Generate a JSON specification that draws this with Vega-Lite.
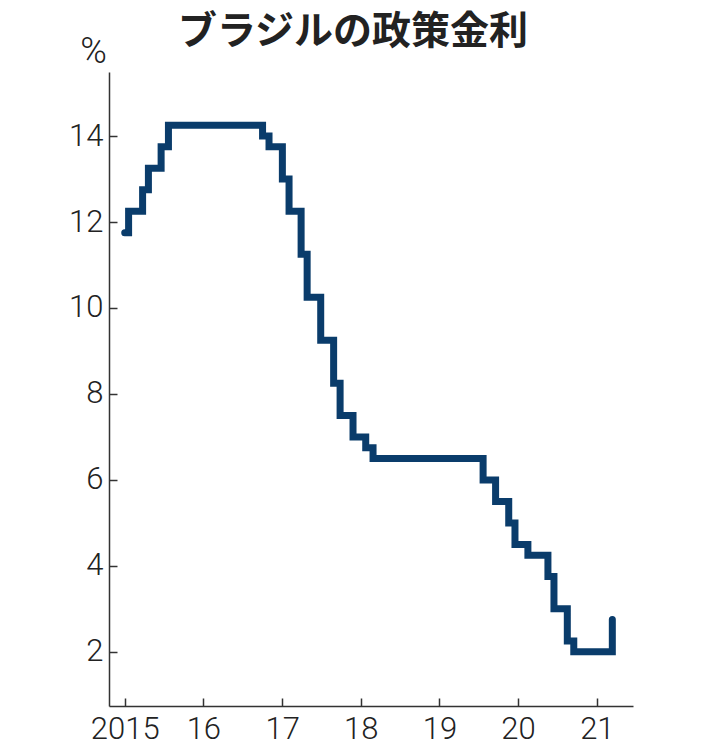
{
  "$schema": "https://vega.github.io/schema/vega-lite/v6.json",
  "width": 524,
  "height": 634,
  "autosize": "none",
  "padding": {"left": 109, "top": 72, "right": 70, "bottom": 50},
  "background": "white",
  "title": {
    "text": "ブラジルの政策金利",
    "font": "Noto Sans CJK JP",
    "fontWeight": "bold",
    "fontSize": 39,
    "color": "#222222",
    "anchor": "middle",
    "frame": "group",
    "dx": -18,
    "dy": 23
  },
  "data": {
    "values": [
      {"date": "2015-01-01", "rate": 11.75},
      {"date": "2015-01-19", "rate": 12.25},
      {"date": "2015-03-25", "rate": 12.75},
      {"date": "2015-04-21", "rate": 13.25},
      {"date": "2015-06-19", "rate": 13.75},
      {"date": "2015-07-23", "rate": 14.25},
      {"date": "2016-10-02", "rate": 14.0},
      {"date": "2016-11-01", "rate": 13.75},
      {"date": "2017-01-02", "rate": 13.0},
      {"date": "2017-02-02", "rate": 12.25},
      {"date": "2017-03-30", "rate": 11.25},
      {"date": "2017-04-27", "rate": 10.25},
      {"date": "2017-06-29", "rate": 9.25},
      {"date": "2017-08-28", "rate": 8.25},
      {"date": "2017-09-27", "rate": 7.5},
      {"date": "2017-11-26", "rate": 7.0},
      {"date": "2018-01-24", "rate": 6.75},
      {"date": "2018-02-27", "rate": 6.5},
      {"date": "2019-07-23", "rate": 6.0},
      {"date": "2019-09-19", "rate": 5.5},
      {"date": "2019-11-19", "rate": 5.0},
      {"date": "2019-12-18", "rate": 4.5},
      {"date": "2020-02-16", "rate": 4.25},
      {"date": "2020-05-19", "rate": 3.75},
      {"date": "2020-06-16", "rate": 3.0},
      {"date": "2020-08-17", "rate": 2.25},
      {"date": "2020-09-16", "rate": 2.0},
      {"date": "2021-03-14", "rate": 2.75}
    ]
  },
  "mark": {
    "type": "line",
    "interpolate": "step-after",
    "strokeWidth": 7,
    "color": "#0a3c6b",
    "strokeCap": "round"
  },
  "encoding": {
    "x": {
      "field": "date",
      "type": "temporal",
      "scale": {
        "type": "utc",
        "domain": [
          {"year": 2014, "month": 10, "date": 20, "utc": true},
          {"year": 2021, "month": 6, "date": 18, "utc": true}
        ]
      },
      "axis": {
        "title": null,
        "grid": false,
        "values": [
          {"year": 2015, "month": 1, "date": 1, "utc": true},
          {"year": 2016, "month": 1, "date": 1, "utc": true},
          {"year": 2017, "month": 1, "date": 1, "utc": true},
          {"year": 2018, "month": 1, "date": 1, "utc": true},
          {"year": 2019, "month": 1, "date": 1, "utc": true},
          {"year": 2020, "month": 1, "date": 1, "utc": true},
          {"year": 2021, "month": 1, "date": 1, "utc": true}
        ],
        "labelExpr": "utcFormat(datum.value, '%Y') == '2015' ? '2015' : utcFormat(datum.value, '%y')",
        "tickSize": -8,
        "labelPadding": 16,
        "labelFlush": false,
        "labelOverlap": false
      }
    },
    "y": {
      "field": "rate",
      "type": "quantitative",
      "scale": {"domain": [0.74, 15.49], "nice": false, "zero": false},
      "axis": {
        "values": [2, 4, 6, 8, 10, 12, 14],
        "grid": false,
        "tickSize": -8,
        "labelPadding": 14,
        "title": "%",
        "titleAngle": 0,
        "titleX": -16,
        "titleY": -10,
        "titleAlign": "center",
        "titleBaseline": "alphabetic",
        "titleFont": "Roboto",
        "titleFontSize": 36,
        "titleFontWeight": 300,
        "titleColor": "#222222"
      }
    }
  },
  "config": {
    "view": {"stroke": null},
    "axis": {
      "domainColor": "#333333",
      "tickColor": "#333333",
      "domainWidth": 1.5,
      "tickWidth": 1.5,
      "labelFont": "Roboto",
      "labelFontWeight": 300,
      "labelFontSize": 31,
      "labelColor": "#222222"
    }
  }
}
